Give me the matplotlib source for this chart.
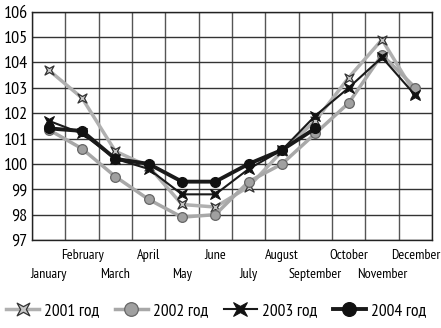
import numpy as np
import matplotlib
matplotlib.use("Agg")
import matplotlib.pyplot as plt
from matplotlib.path import Path

plt.rcParams['font.family'] = ['PT Sans Narrow', 'Roboto Condensed', 'DejaVu Sans']

months = ["January", "February", "March", "April", "May", "June", "July",
          "August", "September", "October", "November", "December"]
y2001 = [103.7, 102.6, 100.5, 99.9, 98.4, 98.3, 99.1, 100.5, 101.7, 103.4, 104.9, 102.75]
y2002 = [101.35, 100.6, 99.5, 98.6, 97.9, 98.0, 99.3, 100.0, 101.2, 102.4, 104.3, 103.0]
y2003 = [101.7, 101.2, 100.2, 99.8, 98.8, 98.8, 99.8, 100.55, 101.9, 103.0, 104.2, 102.7]
y2004 = [101.4, 101.3, 100.2, 100.0, 99.3, 99.3, 100.0, 100.55, 101.4, np.nan, np.nan, np.nan]

# 4-pointed star with concave sides
star = Path([(-1, -1), (0, -0.45), (1, -1), (0.45, 0), (1, 1), (0, 0.45),
             (-1, 1), (-0.45, 0), (-1, -1)],
            [Path.MOVETO] + [Path.LINETO] * 7 + [Path.CLOSEPOLY])

fig = plt.figure(figsize=(4.41, 3.28), dpi=100)
ax = fig.add_axes([32 / 441, 1 - 240 / 328, 400 / 441, (240 - 11.7) / 328])

x = np.arange(len(months))
ax.plot(x, y2001, color='#b0b0b0', lw=2.5, marker=star, ms=6.5,
        mfc='#c8c8c8', mec='#333333', mew=0.9, label='2001 год', zorder=3)
ax.plot(x, y2002, color='#a8a8a8', lw=2.5, marker='o', ms=7,
        mfc='#a0a0a0', mec='#666666', mew=0.9, label='2002 год', zorder=3)
ax.plot(x, y2003, color='#1a1a1a', lw=1.5, marker=star, ms=7,
        mfc='#111111', mec='#111111', mew=0.8, label='2003 год', zorder=4)
ax.plot(x, y2004, color='#1a1a1a', lw=2.8, marker='o', ms=7,
        mfc='#111111', mec='#111111', label='2004 год', zorder=4)

ax.set_xlim(-0.5, 11.5)
ax.set_ylim(97, 106)
ax.set_yticks(range(97, 107))
ax.set_xticks(np.arange(-0.5, 12, 1), minor=True)
ax.set_xticks(x)
ax.set_xticklabels([])
# month names staggered in two rows
for i, m in enumerate(months):
    yrow = -0.149 if i % 2 == 0 else -0.070
    ax.text(i, yrow, m, transform=ax.get_xaxis_transform(), ha='center', va='center',
            fontsize=10.2)
ax.tick_params(axis='x', which='both', length=0)
ax.tick_params(axis='y', length=0, labelsize=13, pad=3)
ax.grid(True, which='minor', axis='x', color='#555555', lw=1.0)
ax.grid(True, which='major', axis='y', color='#333333', lw=1.0)
ax.grid(False, which='major', axis='x')
for s in ax.spines.values():
    s.set_color('#222222')
    s.set_linewidth(1.0)

fig.legend(loc='center', bbox_to_anchor=(0.49, 1 - 311 / 328), ncol=4, frameon=False,
           fontsize=12.5, handlelength=1.9, handletextpad=0.3, columnspacing=0.9,
           markerscale=1.4)

fig.savefig("out.png", dpi=100)
